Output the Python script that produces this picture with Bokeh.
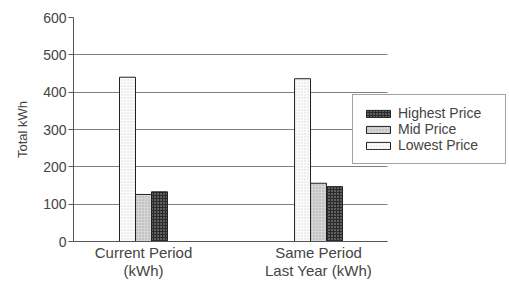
import numpy as np
from bokeh.plotting import figure
from bokeh.models import ColumnDataSource, Range1d, FixedTicker, Legend, LegendItem
from bokeh.embed import file_html
from bokeh.resources import INLINE

categories = ["Current Period\n(kWh)", "Same Period\nLast Year (kWh)"]
lowest = [440, 436]
mid = [126, 156]
highest = [133, 147]
series_names = ["Lowest Price", "Mid Price", "Highest Price"]
y_ticks = [0, 100, 200, 300, 400, 500, 600]

FONT = "Liberation Sans"
centers = np.arange(len(categories)) + 0.5
bw = 0.0914
x_start, x_axis_end, x_end = 0.1, 1.894, 2.574

p = figure(width=509, height=282, output_backend="svg", toolbar_location=None,
           x_range=Range1d(x_start, x_end), y_range=Range1d(0, 600),
           min_border_left=73, min_border_right=3, min_border_top=17, min_border_bottom=41)
p.outline_line_color = None
p.background_fill_color = "white"

styles = [
    dict(fill_color="#fbfbfb", hatch_pattern="dot", hatch_color="#d8d8d8", hatch_scale=3, hatch_weight=1),
    dict(fill_color="#d6d6d6", hatch_pattern="dot", hatch_color="#a8a8a8", hatch_scale=3, hatch_weight=1),
    dict(fill_color="#2a2a2a", hatch_pattern="dot", hatch_color="#b0b0b0", hatch_scale=3, hatch_weight=1),
]
renderers = []
for i, (vals, st) in enumerate(zip([lowest, mid, highest], styles)):
    src = ColumnDataSource(dict(x=centers + (i - 1) * bw, top=vals))
    r = p.vbar(x="x", top="top", width=bw, bottom=0, source=src,
               line_color="#222222", line_width=1, **st)
    renderers.append(r)

legend = Legend(items=[LegendItem(label=series_names[2], renderers=[renderers[2]]),
                       LegendItem(label=series_names[1], renderers=[renderers[1]]),
                       LegendItem(label=series_names[0], renderers=[renderers[0]])],
                location=(279, 77))
legend.label_text_font = FONT
legend.label_text_font_size = "14px"
legend.glyph_width = 30
legend.glyph_height = 9
legend.label_height = 13
legend.label_width = 97
legend.spacing = -2
legend.padding = 10
legend.margin = 0
legend.label_standoff = 5
legend.border_line_color = "#444444"
legend.border_line_width = 1
legend.background_fill_alpha = 1
p.add_layout(legend, "center")

p.yaxis.ticker = FixedTicker(ticks=y_ticks)
p.yaxis.axis_label = "Total kWh"
p.yaxis.axis_label_text_font = FONT
p.yaxis.axis_label_text_font_size = "13px"
p.yaxis.axis_label_text_font_style = "normal"
p.yaxis.axis_label_standoff = 10
p.yaxis.major_label_text_font = FONT
p.yaxis.major_label_text_font_size = "14px"
p.yaxis.major_label_standoff = 2
p.yaxis.major_tick_out = 5
p.yaxis.major_tick_in = 0
p.yaxis.minor_tick_out = 0
p.yaxis.minor_tick_in = 0
p.yaxis.axis_line_color = "#555555"
p.yaxis.major_tick_line_color = "#555555"

p.xaxis.ticker = FixedTicker(ticks=list(centers))
p.xaxis.bounds = (x_start, x_axis_end)
p.xaxis.major_label_overrides = {float(c): lab for c, lab in zip(centers, categories)}
p.xaxis.major_label_text_font = FONT
p.xaxis.major_label_text_font_size = "15px"
p.xaxis.major_label_text_line_height = 1.1
p.xaxis.major_label_standoff = 2
p.xaxis.major_tick_out = 0
p.xaxis.major_tick_in = 0
p.xaxis.minor_tick_out = 0
p.xaxis.minor_tick_in = 0
p.xaxis.axis_line_color = "#555555"

p.xgrid.grid_line_color = None
p.ygrid.grid_line_color = "#808080"
p.ygrid.grid_line_width = 1
p.ygrid.cross_bounds = (x_start, x_axis_end)

open("out.html", "w").write(file_html(p, INLINE))
